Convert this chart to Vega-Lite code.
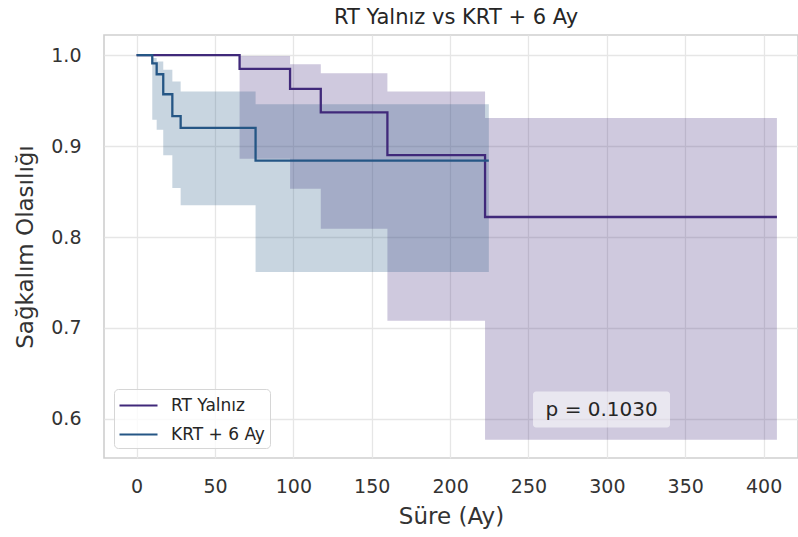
{
  "$schema": "https://vega.github.io/schema/vega-lite/v6.json",
  "width": 694,
  "height": 423,
  "autosize": {"type": "none"},
  "padding": {"left": 104, "top": 35, "right": 0, "bottom": 79},
  "background": "white",
  "title": {
    "text": "RT Yalnız vs KRT + 6 Ay",
    "fontSize": 21,
    "fontWeight": "normal",
    "font": "DejaVu Sans",
    "color": "#262626",
    "baseline": "alphabetic",
    "offset": -10,
    "dx": 5
  },
  "config": {
    "font": "DejaVu Sans",
    "view": {"stroke": "#cfcfcf", "strokeWidth": 1.6},
    "axis": {
      "grid": true,
      "gridColor": "#e6e6e6",
      "gridWidth": 1.3,
      "domain": false,
      "ticks": false,
      "labelFont": "DejaVu Sans",
      "labelFontSize": 19,
      "labelColor": "#333333",
      "titleFont": "DejaVu Sans",
      "titleFontSize": 23,
      "titleFontWeight": "normal",
      "titleColor": "#333333"
    },
    "legend": {
      "labelFont": "DejaVu Sans",
      "labelFontSize": 17,
      "labelColor": "#262626"
    }
  },
  "datasets": {
    "km": [
      {"grup": "RT Yalnız", "t": 0, "s": 1.0, "lo": 1.0, "hi": 1.0},
      {"grup": "RT Yalnız", "t": 65.7, "s": 0.985, "lo": 0.886, "hi": 0.999},
      {"grup": "RT Yalnız", "t": 97.9, "s": 0.963, "lo": 0.853, "hi": 0.99},
      {"grup": "RT Yalnız", "t": 117.5, "s": 0.937, "lo": 0.809, "hi": 0.98},
      {"grup": "RT Yalnız", "t": 160, "s": 0.89, "lo": 0.708, "hi": 0.96},
      {"grup": "RT Yalnız", "t": 222.3, "s": 0.822, "lo": 0.577, "hi": 0.931},
      {"grup": "RT Yalnız", "t": 408.5, "s": 0.822, "lo": 0.577, "hi": 0.931},
      {"grup": "KRT + 6 Ay", "t": 0, "s": 1.0, "lo": 1.0, "hi": 1.0},
      {"grup": "KRT + 6 Ay", "t": 10.0, "s": 0.991, "lo": 0.929, "hi": 0.997},
      {"grup": "KRT + 6 Ay", "t": 12.8, "s": 0.979, "lo": 0.918, "hi": 0.993},
      {"grup": "KRT + 6 Ay", "t": 17.0, "s": 0.957, "lo": 0.89, "hi": 0.984},
      {"grup": "KRT + 6 Ay", "t": 22.8, "s": 0.933, "lo": 0.854, "hi": 0.971},
      {"grup": "KRT + 6 Ay", "t": 28.1, "s": 0.92, "lo": 0.835, "hi": 0.96},
      {"grup": "KRT + 6 Ay", "t": 75.9, "s": 0.884, "lo": 0.7615, "hi": 0.946},
      {"grup": "KRT + 6 Ay", "t": 224.7, "s": 0.884, "lo": 0.7615, "hi": 0.946}
    ],
    "note": [
      {"label": "p = 0.1030", "x": 296.7, "y": 0.61, "x1": 252.9, "x2": 340.3, "y1": 0.5904, "y2": 0.6301}
    ]
  },
  "layer": [
    {
      "data": {"name": "km"},
      "mark": {"type": "area", "interpolate": "step-after", "fillOpacity": 0.25},
      "encoding": {
        "x": {"field": "t", "type": "quantitative",
          "scale": {"domain": [-20.8, 421.95], "nice": false, "zero": false},
          "axis": {"values": [0, 50, 100, 150, 200, 250, 300, 350, 400], "title": "Süre (Ay)", "labelPadding": 19, "titlePadding": 9}},
        "y": {"field": "lo", "type": "quantitative",
          "scale": {"domain": [0.5569, 1.0222], "nice": false, "zero": false},
          "axis": {"values": [0.6, 0.7, 0.8, 0.9, 1.0], "format": ".1f", "title": "Sağkalım Olasılığı", "labelPadding": 23, "titlePadding": 13}},
        "y2": {"field": "hi"},
        "color": {"field": "grup", "type": "nominal",
          "scale": {"domain": ["RT Yalnız", "KRT + 6 Ay"], "range": ["#40297a", "#255685"]},
          "legend": {
            "title": null,
            "orient": "bottom-left",
            "offset": 10,
            "padding": 5,
            "fillColor": "rgba(255,255,255,0.8)",
            "strokeColor": "#d6d6d6",
            "cornerRadius": 4,
            "symbolType": "M-1,0H2.8",
            "symbolSize": 400,
            "symbolStrokeWidth": 2.2,
            "symbolOpacity": 1,
            "symbolOffset": -1,
            "labelOffset": 30,
            "rowPadding": 9
          }}
      }
    },
    {
      "data": {"name": "km"},
      "mark": {"type": "line", "interpolate": "step-after", "strokeWidth": 2.3},
      "encoding": {
        "x": {"field": "t", "type": "quantitative"},
        "y": {"field": "s", "type": "quantitative"},
        "color": {"field": "grup", "type": "nominal"}
      }
    },
    {
      "data": {"name": "note"},
      "mark": {"type": "rect", "fill": "white", "fillOpacity": 0.55, "cornerRadius": 3},
      "encoding": {
        "x": {"field": "x1", "type": "quantitative"},
        "x2": {"field": "x2"},
        "y": {"field": "y1", "type": "quantitative"},
        "y2": {"field": "y2"}
      }
    },
    {
      "data": {"name": "note"},
      "mark": {"type": "text", "fontSize": 20, "align": "center", "baseline": "middle", "color": "#262626", "font": "DejaVu Sans"},
      "encoding": {
        "x": {"field": "x", "type": "quantitative"},
        "y": {"field": "y", "type": "quantitative"},
        "text": {"field": "label"}
      }
    }
  ]
}
